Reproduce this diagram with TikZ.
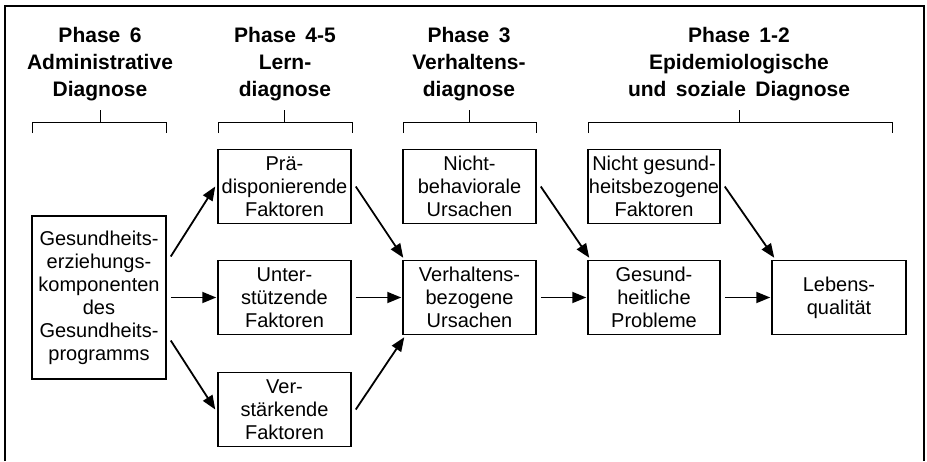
\documentclass[tikz,border=0pt]{standalone}
\usepackage{fontspec}
\setmainfont{Liberation Sans}
\usetikzlibrary{arrows.meta}
\newcommand\wsp{\hspace{0.45em}}
\begin{document}
\begin{tikzpicture}[x=1pt,y=-1pt,
 box/.style={draw, line width=1.5pt, minimum width=133pt, minimum height=74pt, inner sep=0pt, align=center, font=\fontsize{20}{23}\selectfont},
 head/.style={align=center, inner sep=0pt, anchor=north, font=\bfseries\fontsize{21}{27}\selectfont},
 arr/.style={-{Triangle[length=14pt,width=11pt]}, line width=1.8pt},
 brk/.style={line width=0.9pt},
 frame/.style={line width=2.6pt}
]
\useasboundingbox (0,0) rectangle (927,461);
% outer frame (open at the bottom)
\draw[frame] (5,461) -- (5,6) -- (924,6) -- (924,461);

% headers
\node[head] (h6) at (100,27) {Phase\wsp 6\\Administrative\\Diagnose};
\node[head] (h45) at (285,27) {Phase\wsp 4-5\\Lern-\\diagnose};
\node[head] (h3) at (469,27) {Phase\wsp 3\\Verhaltens-\\diagnose};
\node[head] (h12) at (739,27) {Phase\wsp 1-2\\Epidemiologische\\und\wsp soziale\wsp Diagnose};

% brackets
\draw[brk] (32,133) -- (32,122) -- (166,122) -- (166,133);
\draw[brk] (100,122) -- (100,110);
\draw[brk] (218,133) -- (218,122) -- (352,122) -- (352,133);
\draw[brk] (284,122) -- (284,110);
\draw[brk] (403,133) -- (403,122) -- (536,122) -- (536,133);
\draw[brk] (469,122) -- (469,110);
\draw[brk] (588,133) -- (588,122) -- (892,122) -- (892,133);
\draw[brk] (739,122) -- (739,110);

% boxes
\node[box, minimum width=134pt, minimum height=163pt] (G) at (99,297.5)
  {Gesundheits-\\erziehungs-\\komponenten\\des\\Gesundheits-\\programms};
\node[box] (P) at (284.5,186.5) {Prä-\\disponierende\\Faktoren};
\node[box] (U) at (284.5,297.5) {Unter-\\stützende\\Faktoren};
\node[box] (V) at (284.5,409.5) {Ver-\\stärkende\\Faktoren};
\node[box] (N) at (469.5,186.5) {Nicht-\\behaviorale\\Ursachen};
\node[box] (B) at (469.5,297.5) {Verhaltens-\\bezogene\\Ursachen};
\node[box, minimum width=132pt] (NG) at (654,186.5) {Nicht gesund-\\heitsbezogene\\Faktoren};
\node[box, minimum width=132pt] (H) at (654,297.5) {Gesund-\\heitliche\\Probleme};
\node[box, minimum width=134pt] (L) at (839,297.5) {Lebens-\\qualität};

% arrows
\draw[arr] ([shift={(4,-41)}]G.east) -- ([xshift=-2]P.west);
\draw[arr] ([xshift=4]G.east) -- ([xshift=-1]U.west);
\draw[arr] ([shift={(4,43)}]G.east) -- ([xshift=-2]V.west);
\draw[arr] ([xshift=4]P.east) -- ([shift={(1,-2)}]B.north west);
\draw[arr] ([xshift=4]U.east) -- ([xshift=-1]B.west);
\draw[arr] ([xshift=4]V.east) -- ([shift={(2,2)}]B.south west);
\draw[arr] ([xshift=4]N.east) -- ([shift={(2,-2)}]H.north west);
\draw[arr] ([xshift=4]B.east) -- ([xshift=-1]H.west);
\draw[arr] ([xshift=4]NG.east) -- ([shift={(3,-2)}]L.north west);
\draw[arr] ([xshift=4]H.east) -- ([xshift=-1]L.west);
\end{tikzpicture}
\end{document}
